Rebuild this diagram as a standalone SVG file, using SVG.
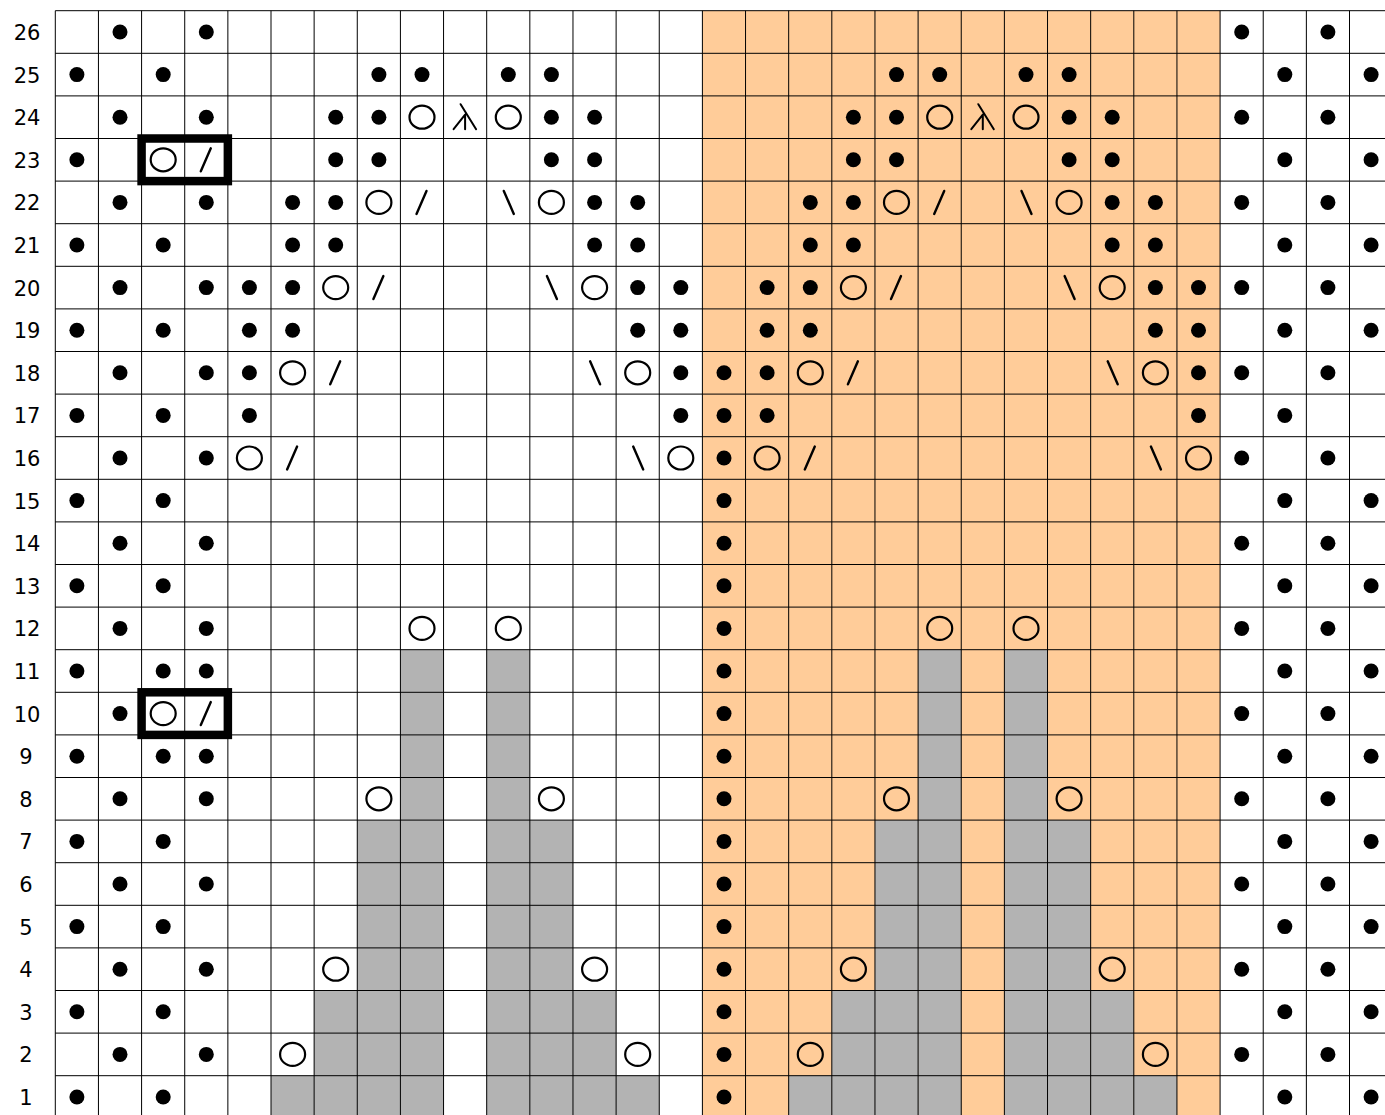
<svg xmlns="http://www.w3.org/2000/svg" width="1385" height="1115" viewBox="0 0 1385 1115">
<style>
.lbl{font-family:"DejaVu Sans","Liberation Sans",sans-serif;font-size:21px;fill:#000;text-anchor:middle}
.grid{stroke:#000;stroke-width:1;fill:none}
.gray{fill:#b3b3b3}
.box{fill:none;stroke:#000;stroke-width:8.5}
</style>
<defs>
<circle id="d" r="7.5" fill="#000"/>
<ellipse id="o" rx="12.5" ry="11.5" fill="none" stroke="#000" stroke-width="2.2"/>
<line id="s" x1="4.5" y1="-11.5" x2="-5.5" y2="11.5" stroke="#000" stroke-width="2.4" stroke-linecap="round"/>
<line id="b" x1="-4.5" y1="-11.5" x2="5.5" y2="11.5" stroke="#000" stroke-width="2.4" stroke-linecap="round"/>
<path id="L" d="M-4.5,-13 L11,12 M0,-2.5 L-11.5,12 M0,-2.5 L0,12" fill="none" stroke="#000" stroke-width="2" stroke-linecap="round"/>
</defs>
<rect width="1385" height="1115" fill="#fff"/>
<rect x="702.4" y="10.7" width="517.68" height="1105" fill="#ffcc99"/>
<g id="gray-cells" class="gray">
<rect x="400.42" y="649.7" width="43.14" height="466"/>
<rect x="486.7" y="649.7" width="43.14" height="466"/>
<rect x="918.1" y="649.7" width="43.14" height="466"/>
<rect x="1004.38" y="649.7" width="43.14" height="466"/>
<rect x="357.28" y="820.1" width="43.14" height="296"/>
<rect x="529.84" y="820.1" width="43.14" height="296"/>
<rect x="874.96" y="820.1" width="43.14" height="296"/>
<rect x="1047.52" y="820.1" width="43.14" height="296"/>
<rect x="314.14" y="990.5" width="43.14" height="126"/>
<rect x="572.98" y="990.5" width="43.14" height="126"/>
<rect x="831.82" y="990.5" width="43.14" height="126"/>
<rect x="1090.66" y="990.5" width="43.14" height="126"/>
<rect x="271" y="1075.7" width="43.14" height="40"/>
<rect x="616.12" y="1075.7" width="43.14" height="40"/>
<rect x="788.68" y="1075.7" width="43.14" height="40"/>
<rect x="1133.8" y="1075.7" width="43.14" height="40"/>
</g>
<path class="grid" d="M55.3,10.7V1115 M98.44,10.7V1115 M141.58,10.7V1115 M184.72,10.7V1115 M227.86,10.7V1115 M271,10.7V1115 M314.14,10.7V1115 M357.28,10.7V1115 M400.42,10.7V1115 M443.56,10.7V1115 M486.7,10.7V1115 M529.84,10.7V1115 M572.98,10.7V1115 M616.12,10.7V1115 M659.26,10.7V1115 M702.4,10.7V1115 M745.54,10.7V1115 M788.68,10.7V1115 M831.82,10.7V1115 M874.96,10.7V1115 M918.1,10.7V1115 M961.24,10.7V1115 M1004.38,10.7V1115 M1047.52,10.7V1115 M1090.66,10.7V1115 M1133.8,10.7V1115 M1176.94,10.7V1115 M1220.08,10.7V1115 M1263.22,10.7V1115 M1306.36,10.7V1115 M1349.5,10.7V1115
M55.3,10.7H1385 M55.3,53.3H1385 M55.3,95.9H1385 M55.3,138.5H1385 M55.3,181.1H1385 M55.3,223.7H1385 M55.3,266.3H1385 M55.3,308.9H1385 M55.3,351.5H1385 M55.3,394.1H1385 M55.3,436.7H1385 M55.3,479.3H1385 M55.3,521.9H1385 M55.3,564.5H1385 M55.3,607.1H1385 M55.3,649.7H1385 M55.3,692.3H1385 M55.3,734.9H1385 M55.3,777.5H1385 M55.3,820.1H1385 M55.3,862.7H1385 M55.3,905.3H1385 M55.3,947.9H1385 M55.3,990.5H1385 M55.3,1033.1H1385 M55.3,1075.7H1385"/>
<g id="labels">
<text class="lbl" x="27" y="40">26</text>
<text class="lbl" x="27" y="82.6">25</text>
<text class="lbl" x="27" y="125.2">24</text>
<text class="lbl" x="27" y="167.8">23</text>
<text class="lbl" x="27" y="210.4">22</text>
<text class="lbl" x="27" y="253">21</text>
<text class="lbl" x="27" y="295.6">20</text>
<text class="lbl" x="27" y="338.2">19</text>
<text class="lbl" x="27" y="380.8">18</text>
<text class="lbl" x="27" y="423.4">17</text>
<text class="lbl" x="27" y="466">16</text>
<text class="lbl" x="27" y="508.6">15</text>
<text class="lbl" x="27" y="551.2">14</text>
<text class="lbl" x="27" y="593.8">13</text>
<text class="lbl" x="27" y="636.4">12</text>
<text class="lbl" x="27" y="679">11</text>
<text class="lbl" x="27" y="721.6">10</text>
<text class="lbl" x="26" y="764.2">9</text>
<text class="lbl" x="26" y="806.8">8</text>
<text class="lbl" x="26" y="849.4">7</text>
<text class="lbl" x="26" y="892">6</text>
<text class="lbl" x="26" y="934.6">5</text>
<text class="lbl" x="26" y="977.2">4</text>
<text class="lbl" x="26" y="1019.8">3</text>
<text class="lbl" x="26" y="1062.4">2</text>
<text class="lbl" x="26" y="1105">1</text>
</g>
<g id="row26"><use href="#d" x="120" y="32"/><use href="#d" x="206.3" y="32"/><use href="#d" x="1241.7" y="32"/><use href="#d" x="1327.9" y="32"/></g>
<g id="row25"><use href="#d" x="76.9" y="74.6"/><use href="#d" x="163.2" y="74.6"/><use href="#d" x="378.9" y="74.6"/><use href="#d" x="422" y="74.6"/><use href="#d" x="508.3" y="74.6"/><use href="#d" x="551.4" y="74.6"/><use href="#d" x="896.5" y="74.6"/><use href="#d" x="939.7" y="74.6"/><use href="#d" x="1026" y="74.6"/><use href="#d" x="1069.1" y="74.6"/><use href="#d" x="1284.8" y="74.6"/><use href="#d" x="1371.1" y="74.6"/></g>
<g id="row24"><use href="#d" x="120" y="117.2"/><use href="#d" x="206.3" y="117.2"/><use href="#d" x="335.7" y="117.2"/><use href="#d" x="378.9" y="117.2"/><use href="#o" x="422" y="117.2"/><use href="#L" x="465.1" y="117.2"/><use href="#o" x="508.3" y="117.2"/><use href="#d" x="551.4" y="117.2"/><use href="#d" x="594.6" y="117.2"/><use href="#d" x="853.4" y="117.2"/><use href="#d" x="896.5" y="117.2"/><use href="#o" x="939.7" y="117.2"/><use href="#L" x="982.8" y="117.2"/><use href="#o" x="1026" y="117.2"/><use href="#d" x="1069.1" y="117.2"/><use href="#d" x="1112.2" y="117.2"/><use href="#d" x="1241.7" y="117.2"/><use href="#d" x="1327.9" y="117.2"/></g>
<g id="row23"><use href="#d" x="76.9" y="159.8"/><use href="#o" x="163.2" y="159.8"/><use href="#s" x="206.3" y="159.8"/><use href="#d" x="335.7" y="159.8"/><use href="#d" x="378.9" y="159.8"/><use href="#d" x="551.4" y="159.8"/><use href="#d" x="594.6" y="159.8"/><use href="#d" x="853.4" y="159.8"/><use href="#d" x="896.5" y="159.8"/><use href="#d" x="1069.1" y="159.8"/><use href="#d" x="1112.2" y="159.8"/><use href="#d" x="1284.8" y="159.8"/><use href="#d" x="1371.1" y="159.8"/></g>
<g id="row22"><use href="#d" x="120" y="202.4"/><use href="#d" x="206.3" y="202.4"/><use href="#d" x="292.6" y="202.4"/><use href="#d" x="335.7" y="202.4"/><use href="#o" x="378.9" y="202.4"/><use href="#s" x="422" y="202.4"/><use href="#b" x="508.3" y="202.4"/><use href="#o" x="551.4" y="202.4"/><use href="#d" x="594.6" y="202.4"/><use href="#d" x="637.7" y="202.4"/><use href="#d" x="810.3" y="202.4"/><use href="#d" x="853.4" y="202.4"/><use href="#o" x="896.5" y="202.4"/><use href="#s" x="939.7" y="202.4"/><use href="#b" x="1026" y="202.4"/><use href="#o" x="1069.1" y="202.4"/><use href="#d" x="1112.2" y="202.4"/><use href="#d" x="1155.4" y="202.4"/><use href="#d" x="1241.7" y="202.4"/><use href="#d" x="1327.9" y="202.4"/></g>
<g id="row21"><use href="#d" x="76.9" y="245"/><use href="#d" x="163.2" y="245"/><use href="#d" x="292.6" y="245"/><use href="#d" x="335.7" y="245"/><use href="#d" x="594.6" y="245"/><use href="#d" x="637.7" y="245"/><use href="#d" x="810.3" y="245"/><use href="#d" x="853.4" y="245"/><use href="#d" x="1112.2" y="245"/><use href="#d" x="1155.4" y="245"/><use href="#d" x="1284.8" y="245"/><use href="#d" x="1371.1" y="245"/></g>
<g id="row20"><use href="#d" x="120" y="287.6"/><use href="#d" x="206.3" y="287.6"/><use href="#d" x="249.4" y="287.6"/><use href="#d" x="292.6" y="287.6"/><use href="#o" x="335.7" y="287.6"/><use href="#s" x="378.9" y="287.6"/><use href="#b" x="551.4" y="287.6"/><use href="#o" x="594.6" y="287.6"/><use href="#d" x="637.7" y="287.6"/><use href="#d" x="680.8" y="287.6"/><use href="#d" x="767.1" y="287.6"/><use href="#d" x="810.3" y="287.6"/><use href="#o" x="853.4" y="287.6"/><use href="#s" x="896.5" y="287.6"/><use href="#b" x="1069.1" y="287.6"/><use href="#o" x="1112.2" y="287.6"/><use href="#d" x="1155.4" y="287.6"/><use href="#d" x="1198.5" y="287.6"/><use href="#d" x="1241.7" y="287.6"/><use href="#d" x="1327.9" y="287.6"/></g>
<g id="row19"><use href="#d" x="76.9" y="330.2"/><use href="#d" x="163.2" y="330.2"/><use href="#d" x="249.4" y="330.2"/><use href="#d" x="292.6" y="330.2"/><use href="#d" x="637.7" y="330.2"/><use href="#d" x="680.8" y="330.2"/><use href="#d" x="767.1" y="330.2"/><use href="#d" x="810.3" y="330.2"/><use href="#d" x="1155.4" y="330.2"/><use href="#d" x="1198.5" y="330.2"/><use href="#d" x="1284.8" y="330.2"/><use href="#d" x="1371.1" y="330.2"/></g>
<g id="row18"><use href="#d" x="120" y="372.8"/><use href="#d" x="206.3" y="372.8"/><use href="#d" x="249.4" y="372.8"/><use href="#o" x="292.6" y="372.8"/><use href="#s" x="335.7" y="372.8"/><use href="#b" x="594.6" y="372.8"/><use href="#o" x="637.7" y="372.8"/><use href="#d" x="680.8" y="372.8"/><use href="#d" x="724" y="372.8"/><use href="#d" x="767.1" y="372.8"/><use href="#o" x="810.3" y="372.8"/><use href="#s" x="853.4" y="372.8"/><use href="#b" x="1112.2" y="372.8"/><use href="#o" x="1155.4" y="372.8"/><use href="#d" x="1198.5" y="372.8"/><use href="#d" x="1241.7" y="372.8"/><use href="#d" x="1327.9" y="372.8"/></g>
<g id="row17"><use href="#d" x="76.9" y="415.4"/><use href="#d" x="163.2" y="415.4"/><use href="#d" x="249.4" y="415.4"/><use href="#d" x="680.8" y="415.4"/><use href="#d" x="724" y="415.4"/><use href="#d" x="767.1" y="415.4"/><use href="#d" x="1198.5" y="415.4"/><use href="#d" x="1284.8" y="415.4"/></g>
<g id="row16"><use href="#d" x="120" y="458"/><use href="#d" x="206.3" y="458"/><use href="#o" x="249.4" y="458"/><use href="#s" x="292.6" y="458"/><use href="#b" x="637.7" y="458"/><use href="#o" x="680.8" y="458"/><use href="#d" x="724" y="458"/><use href="#o" x="767.1" y="458"/><use href="#s" x="810.3" y="458"/><use href="#b" x="1155.4" y="458"/><use href="#o" x="1198.5" y="458"/><use href="#d" x="1241.7" y="458"/><use href="#d" x="1327.9" y="458"/></g>
<g id="row15"><use href="#d" x="76.9" y="500.6"/><use href="#d" x="163.2" y="500.6"/><use href="#d" x="724" y="500.6"/><use href="#d" x="1284.8" y="500.6"/><use href="#d" x="1371.1" y="500.6"/></g>
<g id="row14"><use href="#d" x="120" y="543.2"/><use href="#d" x="206.3" y="543.2"/><use href="#d" x="724" y="543.2"/><use href="#d" x="1241.7" y="543.2"/><use href="#d" x="1327.9" y="543.2"/></g>
<g id="row13"><use href="#d" x="76.9" y="585.8"/><use href="#d" x="163.2" y="585.8"/><use href="#d" x="724" y="585.8"/><use href="#d" x="1284.8" y="585.8"/><use href="#d" x="1371.1" y="585.8"/></g>
<g id="row12"><use href="#d" x="120" y="628.4"/><use href="#d" x="206.3" y="628.4"/><use href="#o" x="422" y="628.4"/><use href="#o" x="508.3" y="628.4"/><use href="#d" x="724" y="628.4"/><use href="#o" x="939.7" y="628.4"/><use href="#o" x="1026" y="628.4"/><use href="#d" x="1241.7" y="628.4"/><use href="#d" x="1327.9" y="628.4"/></g>
<g id="row11"><use href="#d" x="76.9" y="671"/><use href="#d" x="163.2" y="671"/><use href="#d" x="206.3" y="671"/><use href="#d" x="724" y="671"/><use href="#d" x="1284.8" y="671"/><use href="#d" x="1371.1" y="671"/></g>
<g id="row10"><use href="#d" x="120" y="713.6"/><use href="#o" x="163.2" y="713.6"/><use href="#s" x="206.3" y="713.6"/><use href="#d" x="724" y="713.6"/><use href="#d" x="1241.7" y="713.6"/><use href="#d" x="1327.9" y="713.6"/></g>
<g id="row9"><use href="#d" x="76.9" y="756.2"/><use href="#d" x="163.2" y="756.2"/><use href="#d" x="206.3" y="756.2"/><use href="#d" x="724" y="756.2"/><use href="#d" x="1284.8" y="756.2"/><use href="#d" x="1371.1" y="756.2"/></g>
<g id="row8"><use href="#d" x="120" y="798.8"/><use href="#d" x="206.3" y="798.8"/><use href="#o" x="378.9" y="798.8"/><use href="#o" x="551.4" y="798.8"/><use href="#d" x="724" y="798.8"/><use href="#o" x="896.5" y="798.8"/><use href="#o" x="1069.1" y="798.8"/><use href="#d" x="1241.7" y="798.8"/><use href="#d" x="1327.9" y="798.8"/></g>
<g id="row7"><use href="#d" x="76.9" y="841.4"/><use href="#d" x="163.2" y="841.4"/><use href="#d" x="724" y="841.4"/><use href="#d" x="1284.8" y="841.4"/><use href="#d" x="1371.1" y="841.4"/></g>
<g id="row6"><use href="#d" x="120" y="884"/><use href="#d" x="206.3" y="884"/><use href="#d" x="724" y="884"/><use href="#d" x="1241.7" y="884"/><use href="#d" x="1327.9" y="884"/></g>
<g id="row5"><use href="#d" x="76.9" y="926.6"/><use href="#d" x="163.2" y="926.6"/><use href="#d" x="724" y="926.6"/><use href="#d" x="1284.8" y="926.6"/><use href="#d" x="1371.1" y="926.6"/></g>
<g id="row4"><use href="#d" x="120" y="969.2"/><use href="#d" x="206.3" y="969.2"/><use href="#o" x="335.7" y="969.2"/><use href="#o" x="594.6" y="969.2"/><use href="#d" x="724" y="969.2"/><use href="#o" x="853.4" y="969.2"/><use href="#o" x="1112.2" y="969.2"/><use href="#d" x="1241.7" y="969.2"/><use href="#d" x="1327.9" y="969.2"/></g>
<g id="row3"><use href="#d" x="76.9" y="1011.8"/><use href="#d" x="163.2" y="1011.8"/><use href="#d" x="724" y="1011.8"/><use href="#d" x="1284.8" y="1011.8"/><use href="#d" x="1371.1" y="1011.8"/></g>
<g id="row2"><use href="#d" x="120" y="1054.4"/><use href="#d" x="206.3" y="1054.4"/><use href="#o" x="292.6" y="1054.4"/><use href="#o" x="637.7" y="1054.4"/><use href="#d" x="724" y="1054.4"/><use href="#o" x="810.3" y="1054.4"/><use href="#o" x="1155.4" y="1054.4"/><use href="#d" x="1241.7" y="1054.4"/><use href="#d" x="1327.9" y="1054.4"/></g>
<g id="row1"><use href="#d" x="76.9" y="1097"/><use href="#d" x="163.2" y="1097"/><use href="#d" x="724" y="1097"/><use href="#d" x="1284.8" y="1097"/><use href="#d" x="1371.1" y="1097"/></g>
<g id="boxes">
<rect class="box" x="141.58" y="138.5" width="86.28" height="42.6"/>
<rect class="box" x="141.58" y="692.3" width="86.28" height="42.6"/>
</g>
</svg>
